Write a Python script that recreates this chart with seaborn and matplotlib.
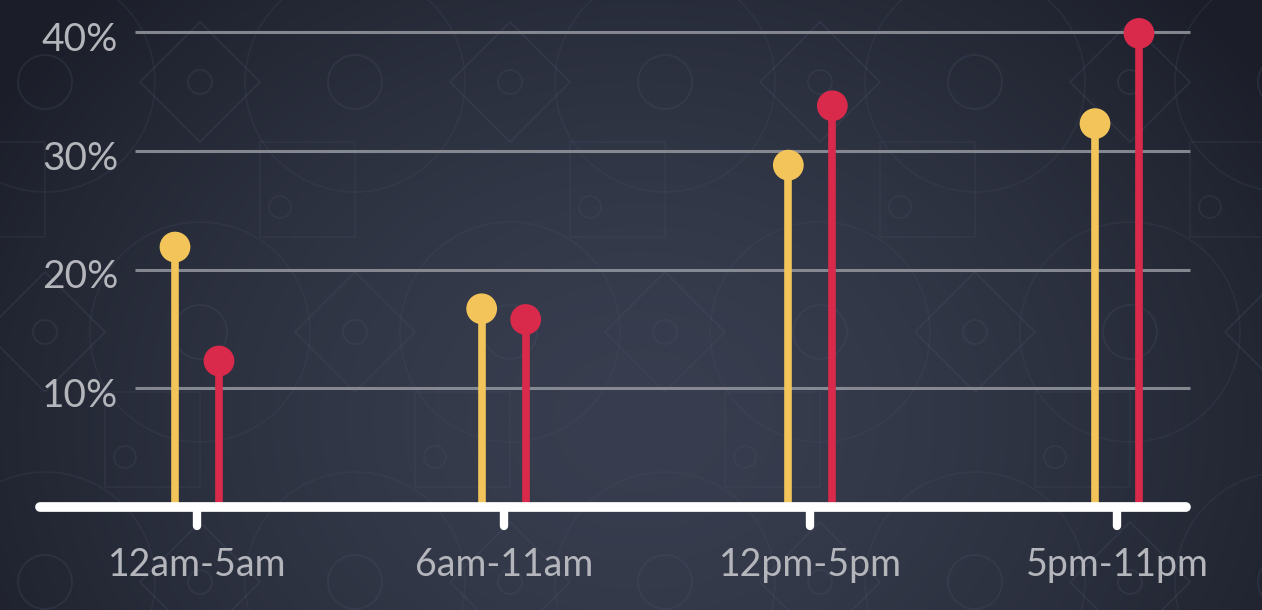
import numpy as np
import pandas as pd
import matplotlib
matplotlib.use("Agg")
import matplotlib.pyplot as plt
import matplotlib.patches as mpatches
import matplotlib.transforms as mtransforms
import seaborn as sns

# ---- data ----
categories = ["12am-5am", "6am-11am", "12pm-5pm", "5pm-11pm"]
series_names = ["A", "B"]
values_a = [21.9, 16.7, 28.8, 32.3]   # yellow
values_b = [12.3, 15.8, 33.8, 39.9]   # red
y_ticks = [10, 20, 30, 40]
y_tick_labels = ["10%", "20%", "30%", "40%"]

YELLOW = "#f2c45a"
RED = "#da2a4b"
TEXT = "#b4b6bc"
GRID = "#8f929a"

sns.set_theme(style="white")
plt.rcParams["font.family"] = ["Lato", "DejaVu Sans"]

W, H = 1262, 610
fig = plt.figure(figsize=(W / 100, H / 100), dpi=100)

# ---- background ----
bg = fig.add_axes([0, 0, 1, 1], zorder=0)
bg.set_xlim(0, W)
bg.set_ylim(H, 0)
bg.axis("off")
yy, xx = np.mgrid[0:H, 0:W]
r = np.sqrt(((xx - 640) / 760.0) ** 2 + ((yy - 420) / 620.0) ** 2)
r = np.clip(r, 0, 1)
c_in = np.array([0x38, 0x3e, 0x4f]) / 255.0
c_out = np.array([0x1b, 0x1e, 0x29]) / 255.0
t = r ** 1.6
img = c_in[None, None, :] * (1 - t[..., None]) + c_out[None, None, :] * t[..., None]
bg.imshow(img, extent=(0, W, H, 0), aspect="auto", zorder=0)

# faint geometric pattern
pc = "#4b5368"
pa = 0.25
for row, y0 in enumerate(range(82, H + 150, 250)):
    shift = 0 if row % 2 == 0 else 155
    for x0 in range(-110 + shift, W + 200, 310):
        bg.add_patch(mpatches.Circle((x0, y0), 12, fill=False, ec=pc, lw=1.4, alpha=pa))
        bg.add_patch(mpatches.RegularPolygon((x0, y0), 4, radius=60, fill=False,
                                             ec=pc, lw=1.4, alpha=pa))
        bg.add_patch(mpatches.Circle((x0 + 155, y0), 27, fill=False, ec=pc, lw=1.4, alpha=pa))
        bg.add_patch(mpatches.Circle((x0 + 155, y0), 110, fill=False, ec=pc, lw=1.2, alpha=pa * 0.8))
        bg.add_patch(mpatches.Rectangle((x0 + 60, y0 + 60), 95, 95, fill=False,
                                        ec=pc, lw=1.2, alpha=pa * 0.8))
        bg.add_patch(mpatches.Circle((x0 + 80, y0 + 125), 11, fill=False, ec=pc, lw=1.2, alpha=pa))

# ---- main axes ----
px0, ppu = 197.0, 306.67       # pixel of category 0, pixels per category
y0px, ppv = 507.0, 11.87       # pixel of 0%, pixels per percent
ax = fig.add_axes([0, (H - y0px) / H, 1, y0px / H], zorder=1)
ax.patch.set_alpha(0)
ax.set_xlim(-px0 / ppu, (W - px0) / ppu)
ax.set_ylim(0, y0px / ppv)
for s in ax.spines.values():
    s.set_visible(False)

off = 22 / ppu
rows = []
for i, c in enumerate(categories):
    rows.append({"cat": c, "series": "A", "x": i - off, "v": values_a[i]})
    rows.append({"cat": c, "series": "B", "x": i + off, "v": values_b[i]})
df = pd.DataFrame(rows)

# gridlines
ax.hlines(y_ticks, (135 - px0) / ppu, (1190 - px0) / ppu, color=GRID, lw=2.2, alpha=0.9, zorder=1)

# stems
pal = {"A": YELLOW, "B": RED}
for s in series_names:
    d = df[df.series == s]
    ax.vlines(d.x, 0, d.v, color=pal[s], lw=5.5, zorder=2)
sns.scatterplot(data=df, x="x", y="v", hue="series", palette=pal, s=490,
                edgecolor="none", legend=False, ax=ax, zorder=3, clip_on=False)

# baseline + ticks
ax.plot([(40 - px0) / ppu, (1186 - px0) / ppu], [0, 0], color="white", lw=7,
        solid_capstyle="round", clip_on=False, zorder=4)
xt = np.arange(len(categories))
for x in xt:
    ax.plot([x, x], [0, -19 / ppv], color="white", lw=6, solid_capstyle="round",
            clip_on=False, zorder=4)

ax.set_xlabel("")
ax.set_ylabel("")
ax.set_xticks(xt)
ax.set_xticklabels(categories)
ax.set_yticks(y_ticks)
ax.set_yticklabels(y_tick_labels)
ax.tick_params(axis="x", length=0, pad=29, labelsize=27, labelcolor=TEXT)
ax.tick_params(axis="y", length=0, pad=-85, labelsize=28, labelcolor=TEXT)
shift_down = mtransforms.ScaledTranslation(0, -3 / 72, fig.dpi_scale_trans)
for lab in ax.get_yticklabels():
    lab.set_transform(lab.get_transform() + shift_down)

fig.savefig("out.png", dpi=100)
